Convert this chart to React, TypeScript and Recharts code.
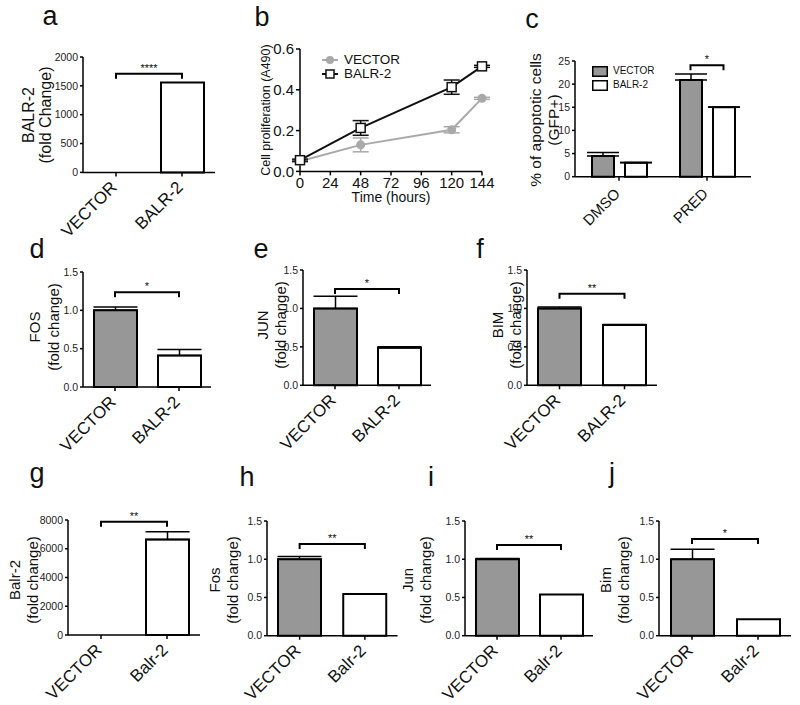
import React from 'react';
import {
  BarChart,
  Bar,
  LineChart,
  Line,
  XAxis,
  YAxis,
  ErrorBar,
  Cell,
  ReferenceLine,
  Legend,
  Rectangle,
} from 'recharts';

const FONT = '"Liberation Sans", Arial, Helvetica, sans-serif';
const GRAY = '#979797';
const LINE_GRAY = '#a9a9a9';
const INK = '#111';

// categories
const pairCats = ['VECTOR', 'BALR-2'];
const mouseCats = ['VECTOR', 'Balr-2'];
const treatCats = ['DMSO', 'PRED'];
const seriesOrder = ['VECTOR', 'BALR-2'];
const hours = [0, 48, 120, 144];

// tick values
const foldTicks = [0, 0.5, 1, 1.5];
const aTicks = [0, 500, 1000, 1500, 2000];
const gTicks = [0, 2000, 4000, 6000, 8000];
const cTicks = [0, 5, 10, 15, 20, 25];
const bYTicks = [0, 0.2, 0.4, 0.6];
const bXTicks = [0, 24, 48, 72, 96, 120, 144];

// a: BALR-2 expression
const aValues = [1, 1560];
const aErr = [0, 0];
// b: proliferation (A490)
const bVector = [0.05, 0.13, 0.204, 0.358];
const bVectorErr = [0.005, 0.034, 0.015, 0.005];
const bBalr = [0.055, 0.213, 0.413, 0.515];
const bBalrErr = [0.005, 0.036, 0.035, 0.005];
// c: % apoptotic cells
const cVector = [4.45, 20.9];
const cVectorErr = [0.8, 1.3];
const cBalr = [3.0, 15.0];
const cBalrErr = [0.1, 0.05];
// d-f: human fold change
const dValues = [1.0, 0.41];
const dErr = [0.045, 0.08];
const eValues = [1.0, 0.49];
const eErr = [0.16, 0.01];
const fValues = [1.0, 0.785];
const fErr = [0.02, 0.005];
// g-j: mouse fold change
const gValues = [1, 6650];
const gErr = [0, 530];
const hValues = [1.0, 0.545];
const hErr = [0.035, 0];
const iValues = [1.0, 0.54];
const iErr = [0.01, 0];
const jValues = [1.0, 0.214];
const jErr = [0.13, 0];

// significance brackets
const aSig = 1711;
const cSig = 24.1;
const dSig = 1.235;
const eSig = 1.253;
const fSig = 1.19;
const gSig = 7880;
const hSig = 1.2;
const iSig = 1.186;
const jSig = 1.265;

const L = 70;
const T = 30;
const R = 12;
const B = 90;

const axisStyle = { stroke: '#000', strokeWidth: 1.5 };
const fmt1 = (v: number) => v.toFixed(1);
const fmt0 = (v: number) => String(v);

const RotTick = ({ x, y, payload, fs = 17, dx = 2, dy = 10 }: any) => (
  <g transform={`translate(${x + dx},${y + dy}) rotate(-45)`}>
    <text textAnchor="end" fontSize={fs} fill={INK}>
      {payload.value}
    </text>
  </g>
);

// bars thinner than a pixel vanish into the axis, as in GraphPad
const BarShape = (p: any) => (Math.abs(p.height) < 1 ? <g /> : <Rectangle {...p} />);

const bracketShape = (stars: string, half = 0) => (p: any) => {
  const left = half ? p.x1 - half : Math.min(p.x1, p.x2);
  const right = half ? p.x1 + half : Math.max(p.x1, p.x2);
  const y = p.y1;
  return (
    <g>
      <path d={`M${left},${y + 5}V${y}H${right}V${y + 5}`} fill="none" stroke="#000" strokeWidth={2} />
      <text x={(left + right) / 2} y={y - 2} textAnchor="middle" fontSize={11} fill={INK}>
        {stars}
      </text>
    </g>
  );
};

const ordered = (payload: any[]) =>
  [...(payload || [])].sort((a, b) => seriesOrder.indexOf(a.value) - seriesOrder.indexOf(b.value));

// upward-only SEM; no whisker at all where the error is zero
const upErr = (e: number) => (e > 0 ? [0, e] : null);

function PairPanel({ box, cats, values, errs, ticks, fmt, sig, stars }: any) {
  const [x0, y0, x1, y1] = box;
  const data = cats.map((name: string, i: number) => ({ name, value: values[i], err: upErr(errs[i]) }));
  return (
    <div style={{ position: 'absolute', left: x0 - L, top: y0 - T }}>
      <BarChart
        width={x1 - x0 + L + R}
        height={y1 - y0 + T + B}
        data={data}
        margin={{ top: T, right: R, left: 0, bottom: 0 }}
      >
        <XAxis
          dataKey="name"
          height={B}
          axisLine={axisStyle}
          tickLine={axisStyle}
          tickSize={4}
          interval={0}
          tick={(p: any) => <RotTick {...p} fs={17} />}
        />
        <YAxis
          width={L}
          domain={[ticks[0], ticks[ticks.length - 1]]}
          ticks={ticks}
          interval={0}
          tickFormatter={fmt}
          axisLine={axisStyle}
          tickLine={axisStyle}
          tickSize={3}
          tick={{ fontSize: 10.5, fill: '#222' }}
        />
        <Bar dataKey="value" barSize={43} stroke="#000" strokeWidth={2} shape={BarShape} isAnimationActive={false}>
          {data.map((_: any, i: number) => (
            <Cell key={i} fill={i === 0 ? GRAY : '#fff'} />
          ))}
          <ErrorBar dataKey="err" width={22} stroke="#000" strokeWidth={1.5} />
        </Bar>
        <ReferenceLine
          segment={[
            { x: cats[0], y: sig },
            { x: cats[1], y: sig },
          ]}
          shape={bracketShape(stars)}
        />
      </BarChart>
    </div>
  );
}

const LineLegend = ({ payload }: any) => (
  <div style={{ fontSize: 13.5, lineHeight: '14px', color: INK }}>
    {ordered(payload).map((p: any, i: number) => (
      <div key={i} style={{ display: 'flex', alignItems: 'center', height: 14 }}>
        <svg width={17} height={12}>
          <line x1={0} x2={16} y1={6} y2={6} stroke={p.color} strokeWidth={2} />
          {p.value === 'VECTOR' ? (
            <circle cx={8} cy={6} r={4} fill={p.color} />
          ) : (
            <rect x={4} y={2} width={8} height={8} fill="#fff" stroke={p.color} strokeWidth={1.5} />
          )}
        </svg>
        <span style={{ marginLeft: 5 }}>{p.value}</span>
      </div>
    ))}
  </div>
);

const SwatchLegend = ({ payload }: any) => (
  <div style={{ fontSize: 10, lineHeight: '12px', color: INK }}>
    {ordered(payload).map((p: any, i: number) => (
      <div key={i} style={{ display: 'flex', alignItems: 'center', height: 14 }}>
        <svg width={16} height={11}>
          <rect x={0.75} y={0.75} width={14.5} height={9.5} fill={p.color} stroke="#000" strokeWidth={1.5} />
        </svg>
        <span style={{ marginLeft: 5 }}>{p.value}</span>
      </div>
    ))}
  </div>
);

function ProliferationPanel() {
  const [x0, y0, x1, y1] = [300, 49.3, 482, 171.7];
  const bb = 36;
  const data = hours.map((t, i) => ({
    t,
    vector: bVector[i],
    vErr: bVectorErr[i],
    balr: bBalr[i],
    bErr: bBalrErr[i],
  }));
  return (
    <div style={{ position: 'absolute', left: x0 - L, top: y0 - T }}>
      <LineChart
        width={x1 - x0 + L + 20}
        height={y1 - y0 + T + bb}
        data={data}
        margin={{ top: T, right: 20, left: 0, bottom: 0 }}
      >
        <XAxis
          type="number"
          dataKey="t"
          domain={[0, 144]}
          ticks={bXTicks}
          interval={0}
          height={bb}
          axisLine={axisStyle}
          tickLine={axisStyle}
          tickSize={4}
          tick={{ fontSize: 15, fill: INK }}
          label={{ value: 'Time (hours)', position: 'insideBottom', offset: 5, fontSize: 14, fill: INK }}
        />
        <YAxis
          width={L}
          domain={[0, 0.6]}
          ticks={bYTicks}
          interval={0}
          tickFormatter={fmt1}
          axisLine={axisStyle}
          tickLine={axisStyle}
          tickSize={4}
          tick={{ fontSize: 15, fill: INK }}
        />
        <Line
          dataKey="vector"
          name="VECTOR"
          stroke={LINE_GRAY}
          strokeWidth={2}
          isAnimationActive={false}
          dot={(p: any) => <circle key={p.index} cx={p.cx} cy={p.cy} r={4.5} fill={LINE_GRAY} />}
        >
          <ErrorBar dataKey="vErr" width={8} stroke={LINE_GRAY} strokeWidth={1.5} direction="y" />
        </Line>
        <Line
          dataKey="balr"
          name="BALR-2"
          stroke={INK}
          strokeWidth={2}
          isAnimationActive={false}
          dot={(p: any) => (
            <rect key={p.index} x={p.cx - 4.5} y={p.cy - 4.5} width={9} height={9} fill="#fff" stroke={INK} strokeWidth={1.5} />
          )}
        >
          <ErrorBar dataKey="bErr" width={8} stroke={INK} strokeWidth={1.5} direction="y" />
        </Line>
        <Legend
          layout="vertical"
          align="center"
          verticalAlign="middle"
          content={<LineLegend />}
          wrapperStyle={{ left: 92, top: 34, width: 'auto' }}
        />
      </LineChart>
    </div>
  );
}

function ApoptosisPanel() {
  const [x0, y0, x1, y1] = [575, 61, 751, 176.7];
  const barSize = 22;
  const barGap = 11;
  const data = treatCats.map((name, i) => ({
    name,
    vector: cVector[i],
    vErr: upErr(cVectorErr[i]),
    balr: cBalr[i],
    bErr: upErr(cBalrErr[i]),
  }));
  return (
    <div style={{ position: 'absolute', left: x0 - L, top: y0 - T }}>
      <BarChart
        width={x1 - x0 + L + R}
        height={y1 - y0 + T + B}
        data={data}
        barGap={barGap}
        margin={{ top: T, right: R, left: 0, bottom: 0 }}
      >
        <XAxis
          dataKey="name"
          height={B}
          axisLine={axisStyle}
          tickLine={axisStyle}
          tickSize={4}
          interval={0}
          tick={(p: any) => <RotTick {...p} fs={15} dy={12} />}
        />
        <YAxis
          width={L}
          domain={[0, 25]}
          ticks={cTicks}
          interval={0}
          tickFormatter={fmt0}
          axisLine={axisStyle}
          tickLine={axisStyle}
          tickSize={3}
          tick={{ fontSize: 10.5, fill: '#222' }}
        />
        <Bar dataKey="vector" name="VECTOR" fill={GRAY} stroke="#000" strokeWidth={2} barSize={barSize} isAnimationActive={false}>
          <ErrorBar dataKey="vErr" width={16} stroke="#000" strokeWidth={1.5} />
        </Bar>
        <Bar dataKey="balr" name="BALR-2" fill="#fff" stroke="#000" strokeWidth={2} barSize={barSize} isAnimationActive={false}>
          <ErrorBar dataKey="bErr" width={16} stroke="#000" strokeWidth={1.5} />
        </Bar>
        <ReferenceLine
          segment={[
            { x: 'PRED', y: cSig },
            { x: 'PRED', y: cSig },
          ]}
          shape={bracketShape('*', (barSize + barGap) / 2)}
        />
        <Legend
          layout="vertical"
          align="center"
          verticalAlign="middle"
          content={<SwatchLegend />}
          wrapperStyle={{ left: 87, top: 33, width: 'auto' }}
        />
      </BarChart>
    </div>
  );
}

const letters: [string, number, number][] = [
  ['a', 50, 25],
  ['b', 262, 26],
  ['c', 532, 28],
  ['d', 37, 258],
  ['e', 261, 258],
  ['f', 480, 258],
  ['g', 37, 482],
  ['h', 247, 486],
  ['i', 431, 486],
  ['j', 612, 482],
];

const yTitles: { lines: string[]; xs: number[]; cy: number; fs: number }[] = [
  { lines: ['BALR-2', '(fold Change)'], xs: [28, 45], cy: 115, fs: 16 },
  { lines: ['Cell proliferation (A490)'], xs: [266], cy: 110, fs: 12.5 },
  { lines: ['% of apoptotic cells', '(GFP+)'], xs: [535, 553], cy: 120, fs: 15.5 },
  { lines: ['FOS', '(fold change)'], xs: [34, 53], cy: 327, fs: 15 },
  { lines: ['JUN', '(fold change)'], xs: [262, 280], cy: 325, fs: 15 },
  { lines: ['BIM', '(fold change)'], xs: [497, 515], cy: 325, fs: 15 },
  { lines: ['Balr-2', '(fold change)'], xs: [14, 32], cy: 580, fs: 15 },
  { lines: ['Fos', '(fold change)'], xs: [214, 232], cy: 580, fs: 15 },
  { lines: ['Jun', '(fold change)'], xs: [407, 425], cy: 580, fs: 15 },
  { lines: ['Bim', '(fold change)'], xs: [605, 623], cy: 580, fs: 15 },
];

export default function App() {
  return (
    <div
      style={{
        position: 'absolute',
        left: 0,
        top: 0,
        width: 800,
        height: 705,
        background: '#fff',
        fontFamily: FONT,
        overflow: 'hidden',
      }}
    >
      <PairPanel box={[83, 57.3, 215, 172.7]} cats={pairCats} values={aValues} errs={aErr} ticks={aTicks} fmt={fmt0} sig={aSig} stars="****" />
      <ProliferationPanel />
      <ApoptosisPanel />
      <PairPanel box={[83, 271.7, 211, 386.7]} cats={pairCats} values={dValues} errs={dErr} ticks={foldTicks} fmt={fmt1} sig={dSig} stars="*" />
      <PairPanel box={[303, 270, 431, 385.3]} cats={pairCats} values={eValues} errs={eErr} ticks={foldTicks} fmt={fmt1} sig={eSig} stars="*" />
      <PairPanel box={[527, 270, 657, 385.3]} cats={pairCats} values={fValues} errs={fErr} ticks={foldTicks} fmt={fmt1} sig={fSig} stars="**" />
      <PairPanel box={[68, 520, 200, 635]} cats={mouseCats} values={gValues} errs={gErr} ticks={gTicks} fmt={fmt0} sig={gSig} stars="**" />
      <PairPanel box={[266.5, 521, 397, 635.7]} cats={mouseCats} values={hValues} errs={hErr} ticks={foldTicks} fmt={fmt1} sig={hSig} stars="**" />
      <PairPanel box={[465, 521, 593, 635.7]} cats={mouseCats} values={iValues} errs={iErr} ticks={foldTicks} fmt={fmt1} sig={iSig} stars="**" />
      <PairPanel box={[659, 521, 791, 635.7]} cats={mouseCats} values={jValues} errs={jErr} ticks={foldTicks} fmt={fmt1} sig={jSig} stars="*" />
      <svg width={800} height={705} style={{ position: 'absolute', left: 0, top: 0, pointerEvents: 'none' }}>
        {letters.map(([s, x, y]) => (
          <text key={s} x={x} y={y} textAnchor="middle" fontSize={27} fill={INK}>
            {s}
          </text>
        ))}
        {yTitles.map((t, k) =>
          t.lines.map((line, j) => (
            <text
              key={`${k}-${j}`}
              transform={`translate(${t.xs[j]},${t.cy}) rotate(-90)`}
              textAnchor="middle"
              dominantBaseline="central"
              fontSize={t.fs}
              fill={INK}
            >
              {line}
            </text>
          ))
        )}
      </svg>
    </div>
  );
}
